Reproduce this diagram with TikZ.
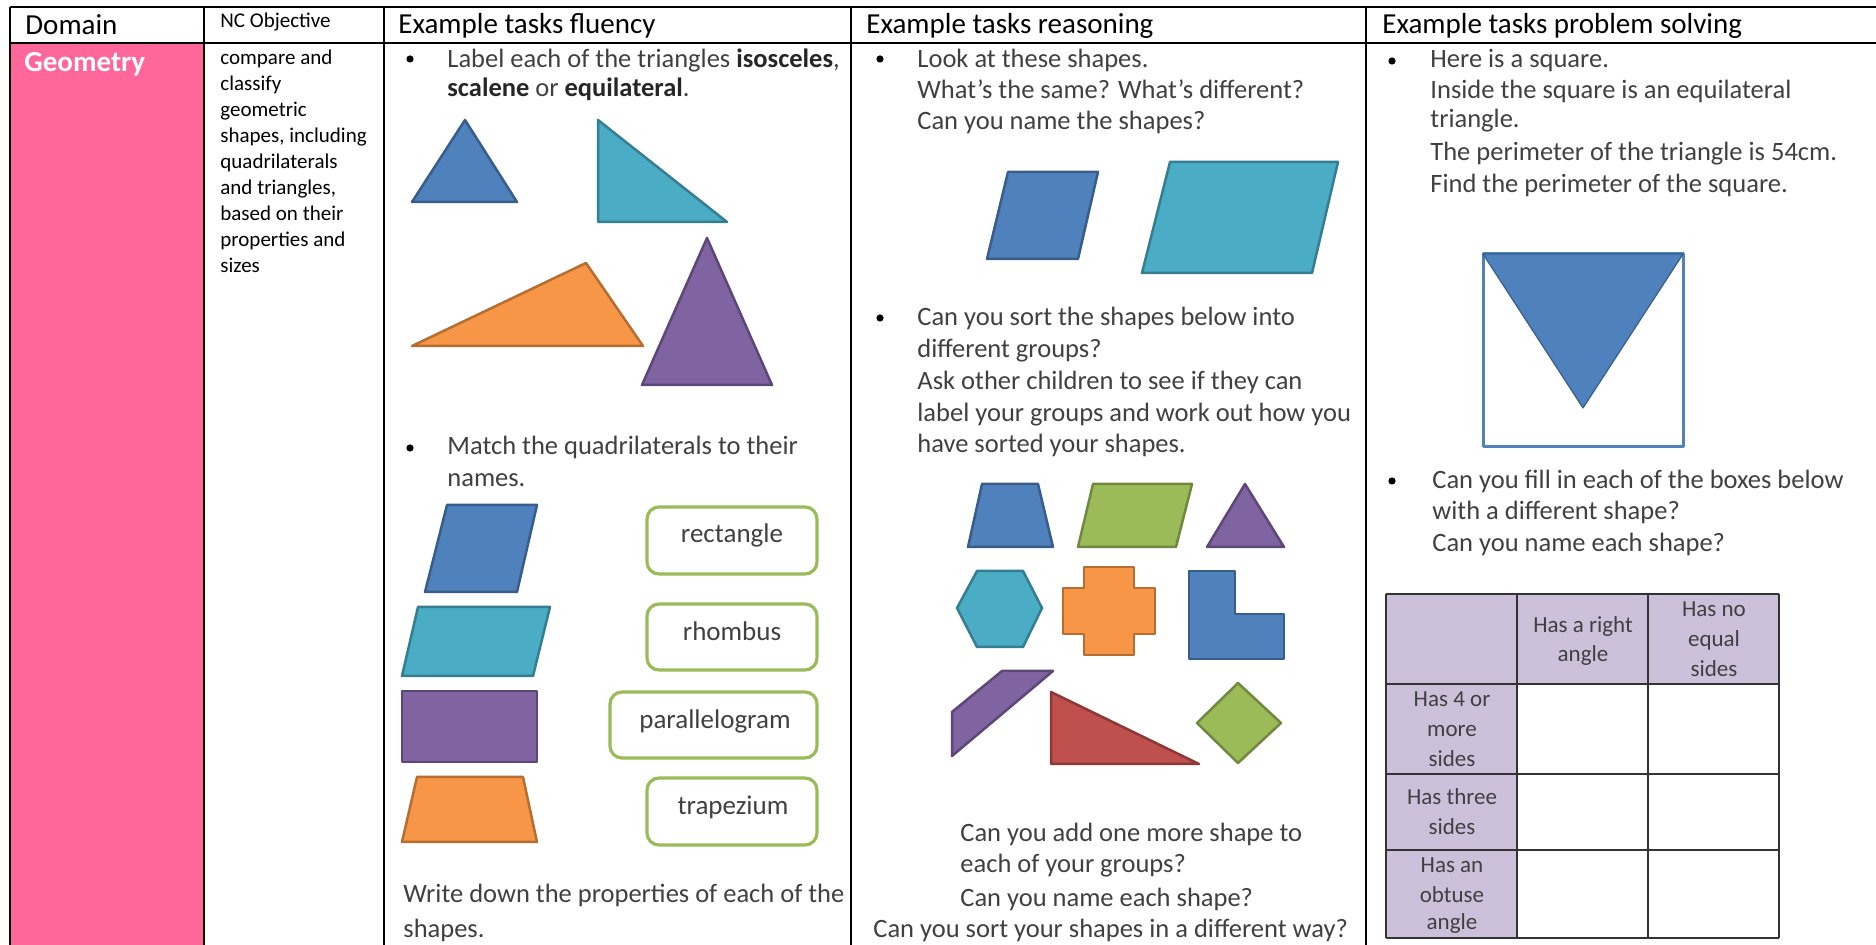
\documentclass[tikz,border=0pt]{standalone}
\usepackage{fontspec}
\setmainfont{Carlito}
\definecolor{OBlue}{HTML}{4F81BD}\definecolor{OBlueD}{HTML}{385D8A}
\definecolor{OTeal}{HTML}{4BACC6}\definecolor{OTealD}{HTML}{357D91}
\definecolor{OOrange}{HTML}{F79646}\definecolor{OOrangeD}{HTML}{B66D31}
\definecolor{OPurple}{HTML}{8064A2}\definecolor{OPurpleD}{HTML}{5C4776}
\definecolor{OGreen}{HTML}{9BBB59}\definecolor{OGreenD}{HTML}{71893F}
\definecolor{ORed}{HTML}{C0504D}\definecolor{ORedD}{HTML}{8C3836}
\definecolor{Pink}{HTML}{FF6699}
\definecolor{LPurple}{HTML}{CCC0DA}
\definecolor{bodytext}{HTML}{404040}
\begin{document}
\begin{tikzpicture}[x=0.5pt,y=-0.5pt,line join=round,
  hdr/.style={font=\fontsize{14.5}{17}\selectfont,anchor=base west,inner sep=0pt},
  obj/.style={font=\fontsize{10.5}{12}\selectfont,anchor=base west,inner sep=0pt},
  txt/.style={font=\fontsize{13.25}{15}\selectfont,text=bodytext,anchor=base west,inner sep=0pt},
  lab/.style={font=\fontsize{13.5}{15}\selectfont,text=bodytext,anchor=base,inner sep=0pt},
  cell/.style={font=\fontsize{11.5}{13}\selectfont,text=bodytext,anchor=base,inner sep=0pt},
  bul/.style={circle,fill=black,inner sep=0pt,minimum size=3.6pt},
  shp/.style 2 args={fill=#1,draw=#2,line width=1.25pt},
  namebox/.style={draw=OGreen,line width=1.6pt,rounded corners=6pt},
  rule/.style={line width=1.3pt,draw=black},
  grid/.style={line width=1pt,draw=black!80}
]
\useasboundingbox (0,0) rectangle (1876,945);
% ---------- main table ----------
\fill[Pink] (10,43) rectangle (204,945);
\draw[rule] (10,7) -- (1876,7);
\draw[rule] (10,43) -- (1876,43);
\foreach \cx in {10,204,384,851,1366} \draw[rule] (\cx,7) -- (\cx,945);
\node[hdr] (hDomain) at (25,35) {Domain};
\node[obj] (hNC) at (220,28) {NC Objective};
\node[hdr] (hFlu) at (398,34) {Example tasks fluency};
\node[hdr] (hRea) at (866,34) {Example tasks reasoning};
\node[hdr] (hPS) at (1382,34) {Example tasks problem solving};
\node[hdr,font=\fontsize{14.5}{17}\selectfont\bfseries,text=white] (geo) at (24,72) {Geometry};
\foreach \t [count=\i] in {compare and,classify,geometric,{shapes, including},quadrilaterals,{and triangles,},based on their,properties and,sizes}
  \node[obj] (obj\i) at (220,39+26*\i) {\t};
% ---------- fluency ----------
\node[bul] (bF1) at (410,59) {};
\node[txt] (f1) at (447,68) {Label each of the triangles \textbf{\color{black!85}isosceles},};
\node[txt] (f2) at (447,97) {\textbf{\color{black!85}scalene} or \textbf{\color{black!85}equilateral}.};
\filldraw[shp={OBlue}{OBlueD}] (465,120) -- (517,202) -- (412,202) -- cycle;
\filldraw[shp={OTeal}{OTealD}] (598,120) -- (727,222) -- (598,222) -- cycle;
\filldraw[shp={OOrange}{OOrangeD}] (412,346) -- (586,263) -- (643,346) -- cycle;
\filldraw[shp={OPurple}{OPurpleD}] (707,238) -- (772,385) -- (642,385) -- cycle;
\node[bul] (bF2) at (410,448) {};
\node[txt] (f3) at (447,455) {Match the quadrilaterals to their};
\node[txt] (f4) at (447,487) {names.};
\filldraw[shp={OBlue}{OBlueD}] (447,505) -- (537,505) -- (517,592) -- (425,592) -- cycle;
\filldraw[shp={OTeal}{OTealD}] (418,607) -- (550,607) -- (533,676) -- (402,676) -- cycle;
\filldraw[shp={OPurple}{OPurpleD}] (402,691) rectangle (537,762);
\filldraw[shp={OOrange}{OOrangeD}] (417,777) -- (523,777) -- (537,842) -- (402,842) -- cycle;
\draw[namebox] (647,507) rectangle (817,574);
\draw[namebox] (647,604) rectangle (817,670);
\draw[namebox] (610,692) rectangle (817,758);
\draw[namebox] (647,778) rectangle (817,845);
\node[lab] (nRect) at (732,543) {rectangle};
\node[lab] (nRhom) at (732,641) {rhombus};
\node[lab] (nPara) at (715,729) {parallelogram};
\node[lab] (nTrap) at (733,815) {trapezium};
\node[txt] (f5) at (403,903) {Write down the properties of each of the};
\node[txt] (f6) at (403,938) {shapes.};
% ---------- reasoning ----------
\node[bul] (bR1) at (880,59) {};
\node[txt] (r1) at (917,68) {Look at these shapes.};
\node[txt] (r2) at (917,99) {What’s the same? What’s different?};
\node[txt] (r3) at (917,130) {Can you name the shapes?};
\filldraw[shp={OBlue}{OBlueD}] (1008,172) -- (1098,172) -- (1078,259) -- (987,259) -- cycle;
\filldraw[shp={OTeal}{OTealD}] (1170,162) -- (1338,162) -- (1312,273) -- (1142,273) -- cycle;
\node[bul] (bR2) at (880,318) {};
\node[txt] (r4) at (917,326) {Can you sort the shapes below into};
\node[txt] (r5) at (917,358) {different groups?};
\node[txt] (r6) at (917,390) {Ask other children to see if they can};
\node[txt] (r7) at (917,422) {label your groups and work out how you};
\node[txt] (r8) at (917,453) {have sorted your shapes.};
\filldraw[shp={OBlue}{OBlueD}] (982,484) -- (1038,484) -- (1053,547) -- (968,547) -- cycle;
\filldraw[shp={OGreen}{OGreenD}] (1093,484) -- (1192,484) -- (1176,547) -- (1078,547) -- cycle;
\filldraw[shp={OPurple}{OPurpleD}] (1245,484) -- (1284,547) -- (1207,547) -- cycle;
\filldraw[shp={OTeal}{OTealD}] (977,571) -- (1023,571) -- (1042,608) -- (1023,647) -- (977,647) -- (957,608) -- cycle;
\filldraw[shp={OOrange}{OOrangeD}] (1084,567) -- (1134,567) -- (1134,588) -- (1155,588) -- (1155,634) -- (1134,634) -- (1134,655) -- (1084,655) -- (1084,634) -- (1063,634) -- (1063,588) -- (1084,588) -- cycle;
\filldraw[shp={OBlue}{OBlueD}] (1189,571) -- (1235,571) -- (1235,614) -- (1284,614) -- (1284,659) -- (1189,659) -- cycle;
\filldraw[shp={OPurple}{OPurpleD}] (1002,671) -- (1053,671) -- (952,756) -- (952,712) -- cycle;
\filldraw[shp={ORed}{ORedD}] (1051,692) -- (1199,764) -- (1051,764) -- cycle;
\filldraw[shp={OGreen}{OGreenD}] (1238,683) -- (1281,723) -- (1238,763) -- (1197,723) -- cycle;
\node[txt] (r9) at (960,842) {Can you add one more shape to};
\node[txt] (r10) at (960,873) {each of your groups?};
\node[txt] (r11) at (960,907) {Can you name each shape?};
\node[txt] (r12) at (873,938) {Can you sort your shapes in a different way?};
% ---------- problem solving ----------
\node[bul] (bP1) at (1392,61) {};
\node[txt] (p1) at (1430,68) {Here is a square.};
\node[txt] (p2) at (1430,99) {Inside the square is an equilateral};
\node[txt] (p3) at (1430,128) {triangle.};
\node[txt] (p4) at (1430,161) {The perimeter of the triangle is 54cm.};
\node[txt] (p5) at (1430,193) {Find the perimeter of the square.};
\draw[draw=OBlue,line width=1.5pt] (1483,254) rectangle (1683,447);
\filldraw[fill=OBlue,draw=OBlueD,line width=0.6pt] (1483,254) -- (1683,254) -- (1583,408) -- cycle;
\node[bul] (bP2) at (1392,481) {};
\node[txt] (p6) at (1432,489) {Can you fill in each of the boxes below};
\node[txt] (p7) at (1432,520) {with a different shape?};
\node[txt] (p8) at (1432,552) {Can you name each shape?};
% small table
\fill[LPurple] (1386,594) rectangle (1779,684);
\fill[LPurple] (1386,684) rectangle (1517,938);
\foreach \cx in {1386,1517,1648,1779} \draw[grid] (\cx,594) -- (\cx,938);
\foreach \cy in {594,684,774,850,938} \draw[grid] (1386,\cy) -- (1779,\cy);
\node[cell] (c1a) at (1583,633) {Has a right};
\node[cell] (c1b) at (1583,662) {angle};
\node[cell] (c2a) at (1714,617) {Has no};
\node[cell] (c2b) at (1714,647) {equal};
\node[cell] (c2c) at (1714,677) {sides};
\node[cell] (c3a) at (1452,707) {Has 4 or};
\node[cell] (c3b) at (1452,737) {more};
\node[cell] (c3c) at (1452,767) {sides};
\node[cell] (c4a) at (1452,805) {Has three};
\node[cell] (c4b) at (1452,835) {sides};
\node[cell] (c5a) at (1452,873) {Has an};
\node[cell] (c5b) at (1452,903) {obtuse};
\node[cell] (c5c) at (1452,930) {angle};
\end{tikzpicture}
\end{document}
